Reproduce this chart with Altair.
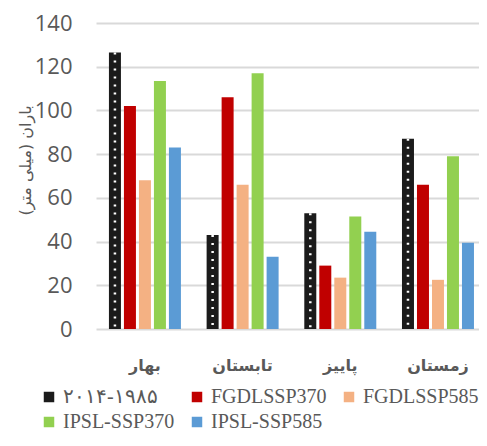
import altair as alt
import pandas as pd

seasons = ["بهار", "تابستان", "پاییز", "زمستان"]
series = ["۲۰۱۴-۱۹۸۵", "FGDLSSP370", "FGDLSSP585", "IPSL-SSP370", "IPSL-SSP585"]
colors = ["#1b1b1b", "#c00000", "#f4b183", "#92d050", "#5b9bd5"]
v_base = [126.5, 43, 53, 87]
v_fg370 = [102, 106, 29, 66]
v_fg585 = [68, 66, 23.5, 22.5]
v_ip370 = [113.5, 117, 51.5, 79]
v_ip585 = [83, 33, 44.5, 39.5]

rows = []
for s_name, vals in zip(series, [v_base, v_fg370, v_fg585, v_ip370, v_ip585]):
    for season, v in zip(seasons, vals):
        rows.append({"season": season, "series": s_name, "value": v})
df = pd.DataFrame(rows)

x = alt.X("season:N", sort=seasons, title=None,
          scale=alt.Scale(paddingInner=0.263, paddingOuter=0.092, align=0.72),
          axis=alt.Axis(labelAngle=0, labelFont="DejaVu Sans", labelFontSize=16,
                        labelFontWeight="bold", labelColor="#595959", labelPadding=28,
                        ticks=False, domain=False))
xo = alt.XOffset("series:N", sort=series, scale=alt.Scale(paddingInner=0.2))
y = alt.Y("value:Q", scale=alt.Scale(domain=[0, 140]),
          title="باران (میلی متر)",
          axis=alt.Axis(values=[0, 20, 40, 60, 80, 100, 120, 140], ticks=False, domain=False,
                        labelFont="Open Sans", labelFontSize=22, labelColor="#595959",
                        labelPadding=8, offset=16, gridColor="#d9d9d9", gridWidth=2,
                        titleFont="DejaVu Sans", titleFontSize=16, titleFontWeight="normal",
                        titleColor="#595959", titleX=-55, titleY=137, titleAngle=-90,
                        titleAlign="center", titleBaseline="middle"))
color = alt.Color("series:N", sort=series,
                  scale=alt.Scale(domain=series, range=colors),
                  legend=alt.Legend(title=None, orient="none", legendX=-57, legendY=364,
                                    direction="horizontal", columns=3, columnPadding=12,
                                    rowPadding=5, symbolType="square", symbolSize=110,
                                    symbolStrokeWidth=0, labelFont="Liberation Serif",
                                    labelFontSize=20, labelColor="#595959", padding=0,
                                    labelOffset=4, symbolOpacity=1))

bars = alt.Chart(df).mark_bar(opacity=1).encode(x=x, xOffset=xo, y=y, color=color)

dots = alt.Chart(df).transform_filter(alt.datum.series == series[0]).mark_rule(
    color="white", strokeWidth=2.5, strokeDash=[2, 6]
).encode(x=x, xOffset=xo, y=y, y2=alt.datum(0))

chart = alt.layer(bars, dots).properties(
    width=383, height=306,
    autosize=alt.AutoSizeParams(type="none"),
    padding={"left": 88, "top": 15, "right": 0, "bottom": 105},
).configure_view(stroke=None)

chart.save("out.html", embed_options={"renderer": "svg", "actions": False})
